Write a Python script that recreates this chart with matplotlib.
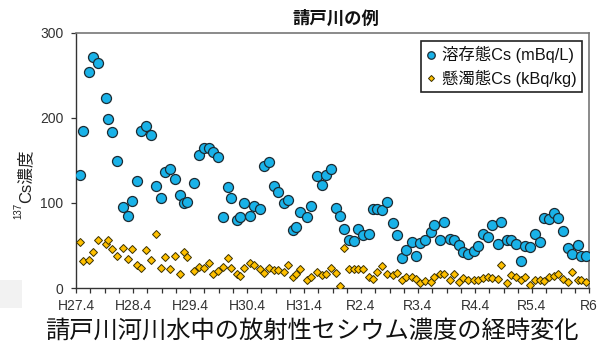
import matplotlib
matplotlib.use("Agg")
import matplotlib.pyplot as plt
from matplotlib.patches import Rectangle

# sampling time, months elapsed since H27.4 (April 2015)
months = [0.82, 1.55, 2.76, 3.58, 4.72, 6.42, 6.67, 7.56, 8.62, 9.84,
          10.98, 11.71, 12.77, 13.74, 14.8, 15.85, 16.82, 17.81, 18.78, 19.84,
          20.74, 21.79, 22.76, 23.41, 24.88, 25.93, 26.92, 27.96, 28.8, 29.83,
          30.97, 31.96, 32.69, 33.9, 34.55, 35.45, 36.66, 37.48, 38.78, 39.67,
          40.73, 41.71, 42.6, 43.74, 44.56, 45.77, 46.42, 47.23, 48.61, 49.51,
          50.65, 51.79, 52.68, 53.66, 54.79, 55.61, 56.51, 57.56, 58.54, 59.44,
          60.32, 61.63, 62.44, 63.42, 64.48, 65.53, 66.67, 67.56, 68.62, 69.43,
          70.66, 71.54, 72.52, 73.57, 74.64, 75.44, 76.67, 77.56, 78.7, 79.6,
          80.65, 81.54, 82.6, 83.74, 84.64, 85.78, 86.66, 87.65, 88.78, 89.51,
          90.73, 91.55, 92.6, 93.66, 94.48, 95.53, 96.59, 97.64, 98.62, 99.67,
          100.73, 101.38, 102.6, 103.5, 104.47, 105.61, 106.42, 107.4]

dissolved = [133, 185, 254, 272, 265, 223, 199, 184, 150, 95,
             85, 102, 126, 185, 191, 180, 120, 106, 136, 140,
             128, 109, 100, 101, 123, 156, 165, 165, 160, 154,
             83, 119, 106, 80, 84, 100, 85, 96, 93, 144,
             148, 120, 113, 100, 104, 68, 72, 89, 83, 97,
             132, 121, 133, 140, 94, 85, 69, 56, 55, 70,
             62, 64, 93, 93, 92, 101, 76, 62, 35, 45,
             54, 38, 53, 57, 66, 74, 56, 78, 58, 57,
             51, 42, 40, 44, 50, 64, 60, 74, 52, 78,
             57, 56, 52, 32, 50, 48, 64, 54, 82, 81,
             88, 82, 67, 47, 40, 51, 38, 38]

suspended = [54, 32, 33, 42, 57, 52, 57, 46, 38, 47,
             34, 46, 27, 24, 45, 33, 64, 23, 36, 22,
             38, 17, 42, 36, 20, 25, 24, 29, 17, 20,
             25, 35, 23, 17, 14, 24, 29, 27, 22, 18,
             24, 21, 21, 19, 27, 13, 17, 22, 10, 13,
             19, 15, 17, 24, 18, 2, 47, 22, 22, 22,
             22, 13, 11, 19, 26, 17, 15, 18, 9, 13,
             13, 11, 6, 8, 7, 13, 16, 17, 9, 17,
             7, 12, 10, 9, 9, 12, 13, 12, 11, 27,
             6, 15, 13, 9, 13, 3, 9, 9, 8, 13,
             14, 17, 11, 7, 19, 10, 10, 7]

tick_labels = ["H27.4", "H28.4", "H29.4", "H30.4", "H31.4",
               "R2.4", "R3.4", "R4.4", "R5.4", "R6"]
series_labels = ["溶存態Cs (mBq/L)", "懸濁態Cs (kBq/kg)"]
title = "請戸川の例"
caption = "請戸川河川水中の放射性セシウム濃度の経時変化"

FAM = ["Liberation Sans", "Noto Sans CJK JP", "DejaVu Sans"]
CJK = ["Noto Sans CJK JP", "DejaVu Sans"]
plt.rcParams["font.family"] = FAM

W, H = 606, 345
fig = plt.figure(figsize=(W / 100, H / 100), dpi=100)
L, R, T, B = 76, 589, 33, 288
ax = fig.add_axes([L / W, 1 - B / H, (R - L) / W, (B - T) / H])

blue = "#19b2e8"
gold = "#ffc000"
edge = "#1c2b33"

ax.plot(months, dissolved, ls="none", marker="o", ms=7.2, mfc=blue,
        mec=edge, mew=0.9, label=series_labels[0], zorder=3)
ax.plot(months, suspended, ls="none", marker="D", ms=4.1, mfc=gold,
        mec="#3a3000", mew=0.7, label=series_labels[1], zorder=3)

ax.set_xlim(0, 108)
ax.set_ylim(0, 300)
ax.set_xticks([12 * i for i in range(len(tick_labels))])
ax.set_xticklabels(tick_labels)
ax.set_xticks([3 * i for i in range(37)], minor=True)
ax.set_yticks([0, 100, 200, 300])
ax.tick_params(axis="both", which="both", direction="out", length=3.5,
               width=0.9, color="#333333", labelsize=10, labelcolor="#333333")
ax.tick_params(axis="x", pad=4.5)
ax.tick_params(axis="y", pad=5.5)

for s in ["left", "bottom"]:
    ax.spines[s].set_color("#333333")
    ax.spines[s].set_linewidth(1.0)
for s in ["top", "right"]:
    ax.spines[s].set_color("#777777")
    ax.spines[s].set_linewidth(1.2)

leg = ax.legend(loc="upper right", bbox_to_anchor=((582 - L) / (R - L), (B - 41) / (B - T)),
                borderaxespad=0, fontsize=11.8, markerscale=0.75, handlelength=0.6,
                handletextpad=0.35, borderpad=0.32, labelspacing=0.38,
                fancybox=False, framealpha=1, edgecolor="#222222")
leg.get_frame().set_linewidth(1.2)
for t in leg.get_texts():
    t.set_color("#111111")

fig.text(336 / W, 1 - 19 / H, title, ha="center", va="center",
         fontsize=12.5, fontweight="bold", family=CJK, color="#111111")
fig.text(312 / W, 1 - 331 / H, caption, ha="center", va="center",
         fontsize=17.5, family=CJK, color="#111111")

# y-axis label: superscript mass number + "Cs濃度"
fig.text(25 / W, 1 - 203 / H, "Cs濃度", rotation=90, ha="center", va="bottom",
         fontsize=12, color="#222222")
fig.text(18.5 / W, 1 - 203 / H, "137", rotation=90, ha="center", va="top",
         fontsize=7, color="#222222")

# faint grey artifact at the lower left of the reference
fig.patches.append(Rectangle((0, 1 - 308 / H), 22 / W, 28 / H, transform=fig.transFigure,
                             facecolor="#f2f2f2", edgecolor="none", zorder=0))

fig.savefig("out.png", dpi=100)
